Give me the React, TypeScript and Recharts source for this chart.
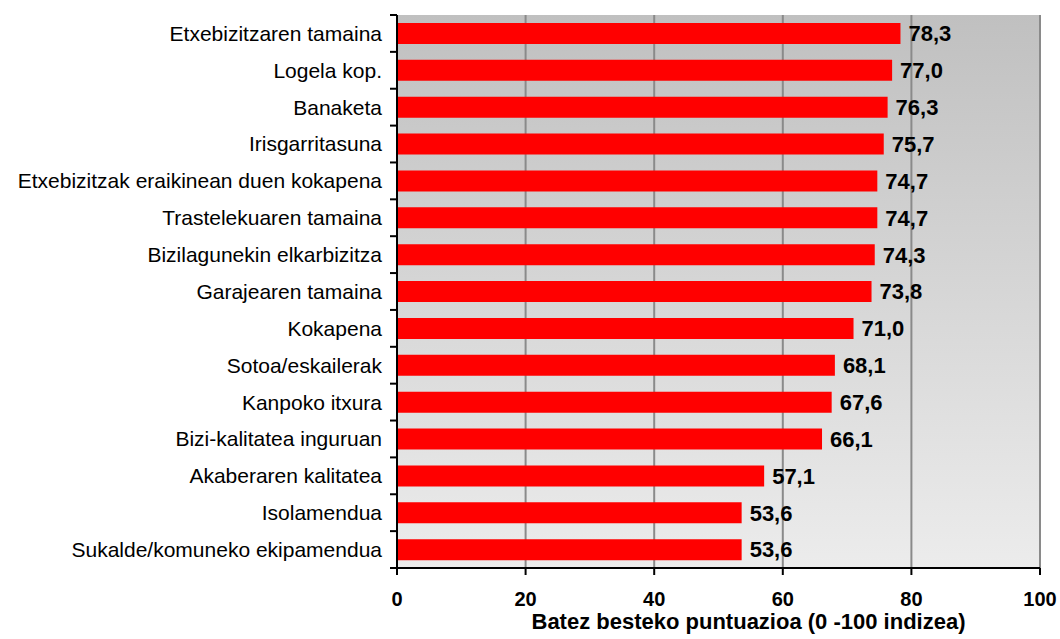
import {
  BarChart,
  Bar,
  XAxis,
  YAxis,
  CartesianGrid,
  LabelList,
  Label,
} from "recharts";

const categories = [
  "Etxebizitzaren tamaina",
  "Logela kop.",
  "Banaketa",
  "Irisgarritasuna",
  "Etxebizitzak eraikinean duen kokapena",
  "Trastelekuaren tamaina",
  "Bizilagunekin elkarbizitza",
  "Garajearen tamaina",
  "Kokapena",
  "Sotoa/eskailerak",
  "Kanpoko itxura",
  "Bizi-kalitatea inguruan",
  "Akaberaren kalitatea",
  "Isolamendua",
  "Sukalde/komuneko ekipamendua",
];

const scores = [78.3, 77.0, 76.3, 75.7, 74.7, 74.7, 74.3, 73.8, 71.0, 68.1, 67.6, 66.1, 57.1, 53.6, 53.6];

const xTicks = [0, 20, 40, 60, 80, 100];

const axisTitle = "Batez besteko puntuazioa (0 -100 indizea)";

const data = categories.map((name, i) => ({ name, value: scores[i] }));

const FONT = "'Liberation Sans', Arial, sans-serif";
const AXIS_W = 397;

// category label plus tick marks on the band boundaries
const CategoryTick = (props: any) => {
  const { y, payload, index } = props;
  const half = payload?.offset ?? 553 / 15 / 2;
  return (
    <g>
      <text
        x={AXIS_W - 15}
        y={y}
        dy="0.355em"
        textAnchor="end"
        fill="#000"
        fontSize={21}
        fontFamily={FONT}
      >
        {payload.value}
      </text>
      {index === 0 && (
        <line x1={AXIS_W - 7} x2={AXIS_W} y1={y - half} y2={y - half} stroke="#000" strokeWidth={2} />
      )}
      <line x1={AXIS_W - 7} x2={AXIS_W} y1={y + half} y2={y + half} stroke="#000" strokeWidth={2} />
    </g>
  );
};

export default function App() {
  return (
    <div style={{ position: "absolute", top: 0, left: 0, background: "#fff" }}>
      <BarChart
        width={1060}
        height={639}
        data={data}
        layout="vertical"
        margin={{ top: 15, right: 20, bottom: 0, left: 0 }}
        barSize={21}
      >
        <defs>
          <linearGradient id="plotBg" x1="0" y1="0" x2="0" y2="1">
            <stop offset="0%" stopColor="#c0c0c0" />
            <stop offset="100%" stopColor="#ececec" />
          </linearGradient>
        </defs>

        <CartesianGrid
          horizontal={false}
          stroke="#8a8a8a"
          strokeWidth={2}
          fill="url(#plotBg)"
          fillOpacity={1}
        />

        {/* top border */}
        <XAxis
          xAxisId="top"
          orientation="top"
          type="number"
          domain={[0, 100]}
          height={0}
          tick={false}
          tickLine={false}
          axisLine={{ stroke: "#8a8a8a", strokeWidth: 2 }}
        />

        <XAxis
          type="number"
          domain={[0, 100]}
          ticks={xTicks}
          interval={0}
          height={71}
          tickSize={7}
          tickMargin={17}
          axisLine={{ stroke: "#000", strokeWidth: 2 }}
          tickLine={{ stroke: "#000", strokeWidth: 2 }}
          tick={{ fill: "#000", fontSize: 20, fontWeight: "bold", fontFamily: FONT }}
        >
          <Label
            value={axisTitle}
            position="insideBottom"
            offset={10}
            dx={30}
            fill="#000"
            fontSize={22}
            fontWeight="bold"
            fontFamily={FONT}
          />
        </XAxis>

        <YAxis
          type="category"
          dataKey="name"
          width={AXIS_W}
          interval={0}
          tickLine={false}
          axisLine={{ stroke: "#000", strokeWidth: 2 }}
          tick={<CategoryTick />}
        />

        <Bar dataKey="value" fill="#ff0000" isAnimationActive={false}>
          <LabelList
            dataKey="value"
            position="right"
            offset={8}
            formatter={(v: any) => Number(v).toFixed(1).replace(".", ",")}
            fill="#000"
            fontSize={22}
            fontWeight="bold"
            fontFamily={FONT}
          />
        </Bar>
      </BarChart>
    </div>
  );
}
